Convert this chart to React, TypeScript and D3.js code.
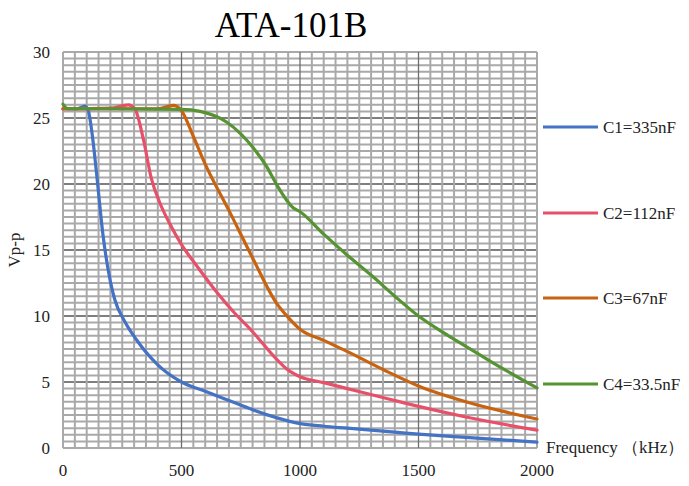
import * as d3 from "d3";
import { useEffect, useMemo, useRef } from "react";

const WIDTH = 689;
const HEIGHT = 486;
const MARGIN = { top: 52, right: 152, bottom: 38, left: 63 };

const X_TICKS = [0, 500, 1000, 1500, 2000];
const Y_TICKS = [0, 5, 10, 15, 20, 25, 30];

const C1_FREQ = [0, 60, 92, 106, 125, 141, 169, 200, 218, 260, 310, 400, 500, 600, 700, 800, 900, 1000, 1100, 1200, 1400, 1500, 1700, 2000];
const C1_VPP = [25.7, 25.7, 25.9, 25.6, 23.5, 20.9, 16.1, 12.6, 11.27, 9.6, 8.2, 6.3, 5.0, 4.3, 3.6, 2.9, 2.3, 1.85, 1.65, 1.5, 1.2, 1.05, 0.8, 0.45];

const C2_FREQ = [0, 200, 276, 303, 339, 373, 408, 450, 500, 560, 649, 720, 790, 958, 1000, 1100, 1200, 1366, 1500, 1700, 2000];
const C2_VPP = [25.7, 25.75, 26.0, 25.7, 23.4, 20.4, 18.6, 17.0, 15.4, 13.9, 11.8, 10.3, 9.0, 5.8, 5.4, 4.95, 4.5, 3.75, 3.15, 2.35, 1.35];

const C3_FREQ = [0, 400, 466, 500, 550, 600, 700, 800, 900, 950, 1000, 1100, 1200, 1350, 1500, 1700, 2000];
const C3_VPP = [25.7, 25.7, 25.95, 25.55, 23.6, 21.5, 18.0, 14.4, 11.0, 9.9, 9.0, 8.15, 7.3, 5.95, 4.7, 3.5, 2.2];

const C4_FREQ = [0, 21, 200, 500, 578, 690, 750, 800, 860, 900, 971, 1000, 1100, 1200, 1300, 1400, 1500, 1600, 1700, 1800, 2000];
const C4_VPP = [26.05, 25.7, 25.7, 25.65, 25.5, 24.7, 23.8, 22.8, 21.3, 20.0, 18.2, 17.9, 16.2, 14.6, 13.1, 11.5, 10.0, 8.8, 7.7, 6.6, 4.55];

const SERIES_NAMES = ["C1=335nF", "C2=112nF", "C3=67nF", "C4=33.5nF"];
const SERIES_COLORS = ["#4472C4", "#E8506A", "#C9630F", "#569433"];
const SERIES = [
  { freq: C1_FREQ, vpp: C1_VPP },
  { freq: C2_FREQ, vpp: C2_VPP },
  { freq: C3_FREQ, vpp: C3_VPP },
  { freq: C4_FREQ, vpp: C4_VPP },
];

const SERIF = "'Liberation Serif', 'Times New Roman', serif";

export default function App() {
  const gridRef = useRef<SVGGElement | null>(null);
  const innerWidth = WIDTH - MARGIN.left - MARGIN.right;
  const innerHeight = HEIGHT - MARGIN.top - MARGIN.bottom;

  const x = useMemo(() => d3.scaleLinear().domain([0, 2000]).range([0, innerWidth]), [innerWidth]);
  const y = useMemo(() => d3.scaleLinear().domain([0, 30]).range([innerHeight, 0]), [innerHeight]);

  useEffect(() => {
    if (!gridRef.current) return;
    const g = d3.select(gridRef.current);
    g.selectAll("*").remove();

    const minorX = d3.range(0, 2001, 50);
    const minorY = d3.range(0, 30.01, 0.5);

    g.append("g")
      .selectAll("line")
      .data(minorY)
      .join("line")
      .attr("x1", 0)
      .attr("x2", innerWidth)
      .attr("y1", (d) => y(d))
      .attr("y2", (d) => y(d))
      .attr("stroke", (d) => (d % 5 === 0 && d !== 30 && d !== 0 ? "#7f7f7f" : "#a9a9a9"))
      .attr("stroke-width", 2);

    g.append("g")
      .selectAll("line")
      .data(minorX.filter((d) => d % 500 !== 0 || d === 0 || d === 2000))
      .join("line")
      .attr("x1", (d) => x(d))
      .attr("x2", (d) => x(d))
      .attr("y1", 0)
      .attr("y2", innerHeight)
      .attr("stroke", "#a9a9a9")
      .attr("stroke-width", 2);

    g.append("g")
      .selectAll("line")
      .data([500, 1000, 1500])
      .join("line")
      .attr("x1", (d) => x(d))
      .attr("x2", (d) => x(d))
      .attr("y1", 0)
      .attr("y2", innerHeight)
      .attr("stroke", "#6f6f6f")
      .attr("stroke-width", 1.3);
  }, [x, y, innerWidth, innerHeight]);

  const line = d3
    .line<[number, number]>()
    .x((d) => x(d[0]))
    .y((d) => y(d[1]))
    .curve(d3.curveMonotoneX);

  const legendYs = [127, 213, 298, 384];

  return (
    <svg
      width={WIDTH}
      height={HEIGHT}
      style={{ position: "absolute", left: 0, top: 0, background: "#fff" }}
      fontFamily={SERIF}
    >
      <text x={291} y={37} textAnchor="middle" fontSize={35} fill="#000">
        ATA-101B
      </text>
      <g transform={`translate(${MARGIN.left},${MARGIN.top})`}>
        <g ref={gridRef} />
        {SERIES.map((s, i) => (
          <path
            key={SERIES_NAMES[i]}
            d={line(s.freq.map((f, j) => [f, s.vpp[j]] as [number, number])) ?? ""}
            fill="none"
            stroke={SERIES_COLORS[i]}
            strokeWidth={3.2}
            strokeLinejoin="round"
            strokeLinecap="round"
          />
        ))}
        {Y_TICKS.map((t) => (
          <text key={t} x={-13} y={y(t)} dy="0.35em" textAnchor="end" fontSize={17} fill="#222">
            {t}
          </text>
        ))}
        {X_TICKS.map((t) => (
          <text key={t} x={x(t)} y={innerHeight + 28} textAnchor="middle" fontSize={17} fill="#222">
            {t}
          </text>
        ))}
        <text x={innerWidth + 9} y={innerHeight + 5} fontSize={17} fill="#222">
          Frequency （kHz）
        </text>
      </g>
      <text
        transform={`translate(20,${MARGIN.top + innerHeight / 2}) rotate(-90)`}
        textAnchor="middle"
        fontSize={17}
        fill="#222"
      >
        Vp-p
      </text>
      {SERIES_NAMES.map((name, i) => (
        <g key={name} transform={`translate(543,${legendYs[i]})`}>
          <line x1={0} x2={55} y1={0} y2={0} stroke={SERIES_COLORS[i]} strokeWidth={3.2} />
          <text x={60} y={0} dy="0.35em" fontSize={17} fill="#222">
            {name}
          </text>
        </g>
      ))}
    </svg>
  );
}
